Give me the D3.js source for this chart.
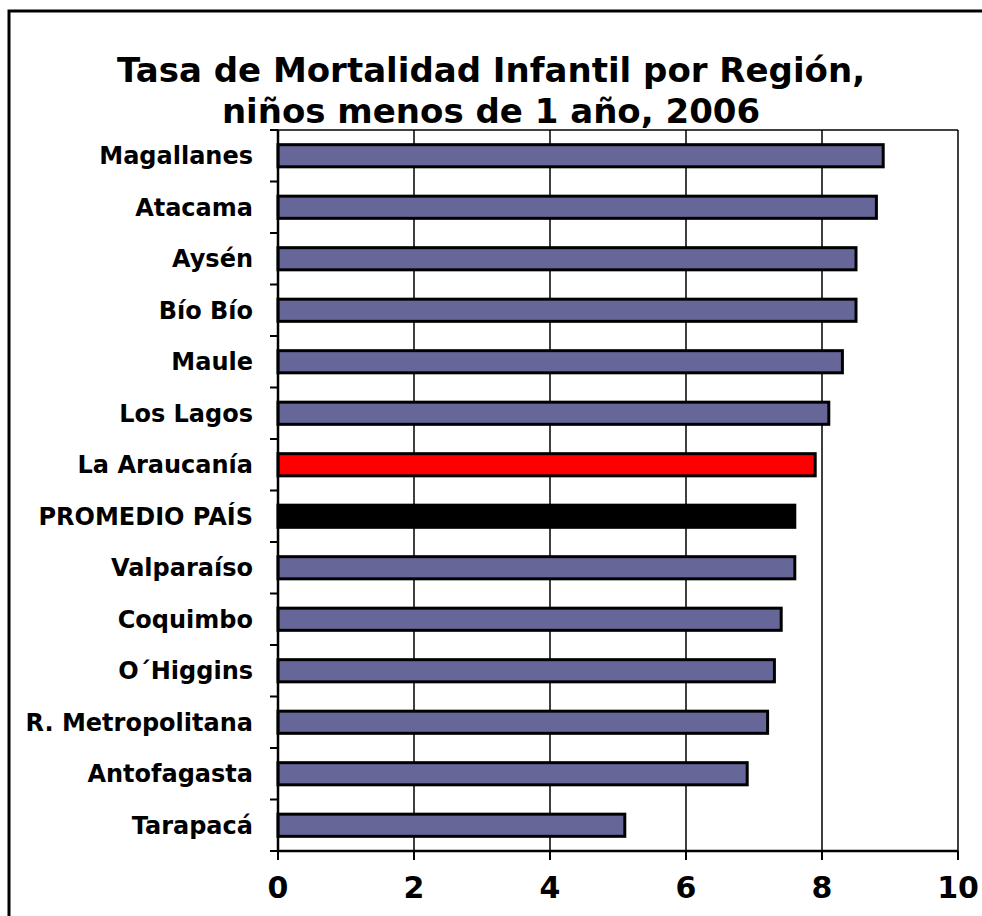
<!DOCTYPE html>
<html>
<head>
<meta charset="utf-8">
<script src="https://cdn.jsdelivr.net/npm/d3@7"></script>
<style>
  body { margin: 0; background: #fff; }
  text { font-family: "DejaVu Sans", Verdana, sans-serif; font-weight: bold; fill: #000; }
</style>
</head>
<body>
<svg id="chart" width="982" height="916"></svg>
<script>
// Regions, top to bottom
var regions = ['Magallanes', 'Atacama', 'Aysén', 'Bío Bío', 'Maule', 'Los Lagos',
  'La Araucanía', 'PROMEDIO PAÍS', 'Valparaíso', 'Coquimbo', 'O´Higgins',
  'R. Metropolitana', 'Antofagasta', 'Tarapacá'];

// Tasa por cada 1000 nacidos vivos
var rates = [8.9, 8.8, 8.5, 8.5, 8.3, 8.1, 7.9, 7.6, 7.6, 7.4, 7.3, 7.2, 6.9, 5.1];

var xTicks = [0, 2, 4, 6, 8, 10];

var titleLines = ['Tasa de Mortalidad Infantil por Región,', 'niños menos de 1 año, 2006'];

var svg = d3.select('#chart');

// outer frame (runs off the right and bottom edges)
svg.append('rect')
   .attr('x', 9).attr('y', 11)
   .attr('width', 1000).attr('height', 1000)
   .attr('fill', 'none')
   .attr('stroke', '#000')
   .attr('stroke-width', 3);

svg.selectAll('.title')
   .data(titleLines)
   .enter()
   .append('text')
   .attr('class', 'title')
   .attr('x', 491)
   .attr('y', function(d, i) { return 82 + i * 41; })
   .attr('text-anchor', 'middle')
   .style('font-size', '34px')
   .text(function(d) { return d; });

var plotL = 278, plotR = 958, plotT = 130, plotB = 851;

var x = d3.scaleLinear().domain([0, 10]).range([plotL, plotR]);
var y = d3.scaleBand()
          .domain(regions)
          .range([plotT, plotB])
          .paddingInner(0.57)
          .paddingOuter(0.285);

// gridlines + plot frame
svg.selectAll('.grid')
   .data([2, 4, 6, 8, 10])
   .enter()
   .append('line')
   .attr('x1', function(d) { return x(d); })
   .attr('x2', function(d) { return x(d); })
   .attr('y1', plotT).attr('y2', plotB)
   .attr('stroke', '#000')
   .attr('stroke-width', 1.5);

svg.append('line')
   .attr('x1', plotL).attr('x2', plotR)
   .attr('y1', plotT).attr('y2', plotT)
   .attr('stroke', '#000')
   .attr('stroke-width', 1.5);

// bars
var fills = function(d) {
  if (d === 'La Araucanía') return '#ff0000';
  if (d === 'PROMEDIO PAÍS') return '#000000';
  return '#666699';
};

svg.selectAll('.bar')
   .data(regions)
   .enter()
   .append('rect')
   .attr('class', 'bar')
   .attr('x', x(0))
   .attr('y', function(d) { return y(d); })
   .attr('width', function(d, i) { return x(rates[i]) - x(0); })
   .attr('height', y.bandwidth())
   .attr('fill', fills)
   .attr('stroke', '#000')
   .attr('stroke-width', 3);

// y axis: ticks sit between categories
var step = y.step();
var bounds = regions.map(function(d) { return y(d) - step * y.paddingInner() / 2; });
bounds.push(plotB);

svg.append('line')
   .attr('x1', plotL).attr('x2', plotL)
   .attr('y1', plotT).attr('y2', plotB)
   .attr('stroke', '#000')
   .attr('stroke-width', 2.5);

svg.selectAll('.ytick')
   .data(bounds)
   .enter()
   .append('line')
   .attr('x1', plotL - 8).attr('x2', plotL)
   .attr('y1', function(d) { return d; })
   .attr('y2', function(d) { return d; })
   .attr('stroke', '#000')
   .attr('stroke-width', 2);

svg.selectAll('.ylabel')
   .data(regions)
   .enter()
   .append('text')
   .attr('x', 253)
   .attr('y', function(d) { return y(d) + y.bandwidth() / 2; })
   .attr('dy', '0.36em')
   .attr('text-anchor', 'end')
   .style('font-size', '24px')
   .text(function(d) { return d; });

// x axis
svg.append('line')
   .attr('x1', plotL).attr('x2', plotR)
   .attr('y1', plotB).attr('y2', plotB)
   .attr('stroke', '#000')
   .attr('stroke-width', 2.5);

svg.selectAll('.xtick')
   .data(xTicks)
   .enter()
   .append('line')
   .attr('x1', function(d) { return x(d); })
   .attr('x2', function(d) { return x(d); })
   .attr('y1', plotB).attr('y2', plotB + 9)
   .attr('stroke', '#000')
   .attr('stroke-width', 2);

svg.selectAll('.xlabel')
   .data(xTicks)
   .enter()
   .append('text')
   .attr('x', function(d) { return x(d); })
   .attr('y', 898)
   .attr('text-anchor', 'middle')
   .style('font-size', '30px')
   .text(function(d) { return d; });
</script>
</body>
</html>
